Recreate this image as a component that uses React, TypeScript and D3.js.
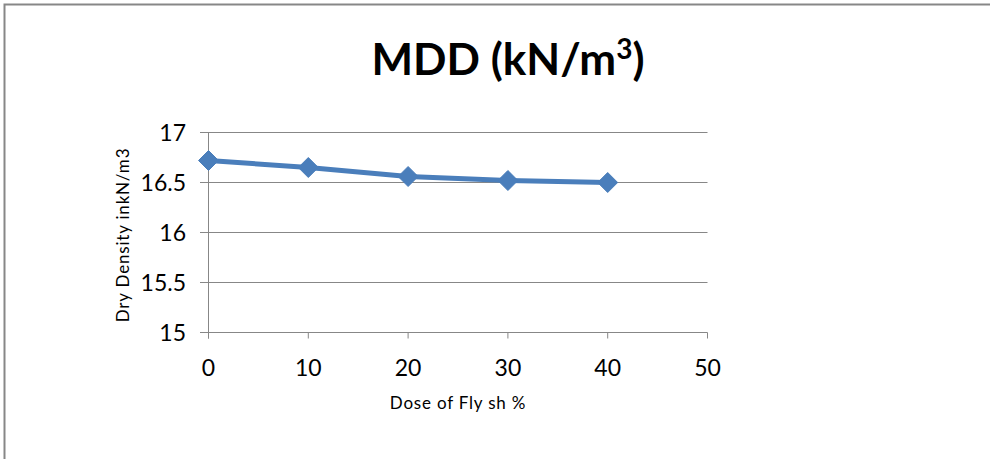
import React from "react";
import * as d3 from "d3";

const doses = [0, 10, 20, 30, 40];
const mdd = [16.72, 16.65, 16.56, 16.52, 16.5];
const xTicks = [0, 10, 20, 30, 40, 50];
const yTicks = [15, 15.5, 16, 16.5, 17];

const W = 990;
const H = 459;
const FONT = "Lato, Carlito, Calibri, 'Open Sans', sans-serif";

export default function App() {
  const x = d3.scaleLinear().domain([0, 50]).range([208.5, 707.5]);
  const y = d3.scaleLinear().domain([15, 17]).range([332.5, 132.5]);
  const line = d3
    .line<number>()
    .x((_, i) => x(doses[i]))
    .y((d) => y(d));
  const grid = "#878787";
  const blue = "#4a7ebb";
  const diamond = (cx: number, cy: number, r: number) =>
    `M${cx},${cy - r}L${cx + r},${cy}L${cx},${cy + r}L${cx - r},${cy}Z`;

  return (
    <svg
      width={W}
      height={H}
      style={{ position: "absolute", left: 0, top: 0, background: "#fff" }}
      fontFamily={FONT}
    >
      <rect x={0} y={0} width={W} height={H} fill="#fff" />
      <path d={`M4.5,${H}V4.5H${W}`} fill="none" stroke={grid} strokeWidth={2} />

      <text x={508} y={75} textAnchor="middle" fontSize={44} fontWeight="bold" fill="#000">
        MDD (kN/m
        <tspan fontSize={28} dy={-16}>3</tspan>
        <tspan dy={16}>)</tspan>
      </text>

      {yTicks.map((t) => (
        <g key={t}>
          <line x1={200} x2={707.5} y1={y(t)} y2={y(t)} stroke={grid} strokeWidth={1} />
          <text x={186} y={y(t) + 8} textAnchor="end" fontSize={23} fill="#000">
            {t}
          </text>
        </g>
      ))}
      <line x1={x(0)} x2={x(0)} y1={y(17)} y2={y(15) + 6} stroke={grid} strokeWidth={1} />
      {xTicks.map((t) => (
        <g key={t}>
          <line x1={x(t)} x2={x(t)} y1={y(15)} y2={y(15) + 6} stroke={grid} strokeWidth={1} />
          <text x={x(t)} y={376} textAnchor="middle" fontSize={23} fill="#000">
            {t}
          </text>
        </g>
      ))}

      <text x={458} y={409} textAnchor="middle" fontSize={17} letterSpacing={0.8} fill="#000">
        Dose of Fly sh %
      </text>
      <text
        transform={`translate(129,235) rotate(-90)`}
        textAnchor="middle"
        fontSize={17}
        letterSpacing={0.8}
        fill="#000"
      >
        Dry Density inkN/m3
      </text>

      <path d={line(mdd) || ""} fill="none" stroke={blue} strokeWidth={5} strokeLinejoin="round" />
      {mdd.map((v, i) => (
        <path key={i} d={diamond(x(doses[i]), y(v), 10)} fill={blue} stroke={blue} strokeWidth={1} />
      ))}
    </svg>
  );
}
